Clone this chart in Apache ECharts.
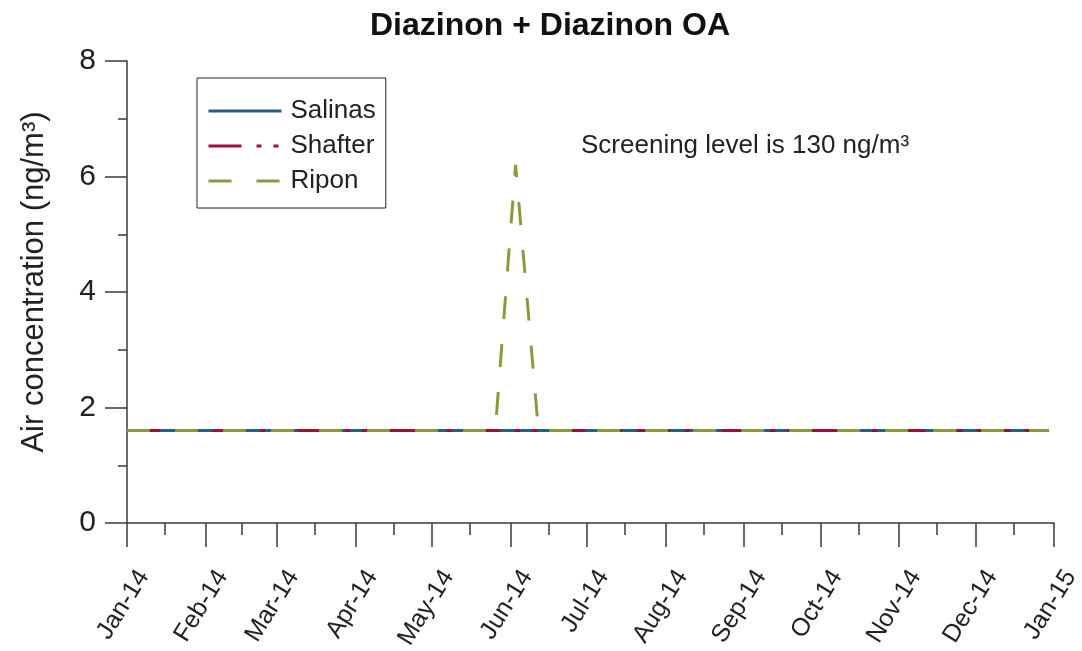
<!DOCTYPE html>
<html>
<head>
<meta charset="utf-8">
<script src="https://cdn.jsdelivr.net/npm/echarts@6/dist/echarts.min.js"></script>
<style>html,body{margin:0;padding:0;background:#fff}#c{width:1082px;height:651px}</style>
</head>
<body>
<div id="c"></div>
<script>
// ---- data ----
const tickDates = ['2014-01-01','2014-02-01','2014-03-01','2014-04-01','2014-05-01','2014-06-01','2014-07-01','2014-08-01','2014-09-01','2014-10-01','2014-11-01','2014-12-01','2015-01-01'];
const tickLabels = ['Jan-14','Feb-14','Mar-14','Apr-14','May-14','Jun-14','Jul-14','Aug-14','Sep-14','Oct-14','Nov-14','Dec-14','Jan-15'];
const minorTickDates = ['2014-01-16','2014-02-15','2014-03-16','2014-04-16','2014-05-16','2014-06-16','2014-07-16','2014-08-16','2014-09-16','2014-10-16','2014-11-16','2014-12-16'];
const salinasDates = ['2014-01-01','2014-12-30'];
const salinasValues = [1.6, 1.6];
const shafterDates = ['2014-01-01','2014-12-30'];
const shafterValues = [1.6, 1.6];
const riponDates = ['2014-01-01','2014-05-26','2014-06-03','2014-06-12','2014-12-30'];
const riponValues = [1.6, 1.6, 6.2, 1.6, 1.6];

const ts = d => new Date(d + 'T00:00:00Z').getTime();
const pairs = (ds, vs) => ds.map((d, i) => [ts(d), vs[i]]);
const labelMap = {};
tickDates.forEach((d, i) => { labelMap[ts(d)] = tickLabels[i]; });

const FONT = '"Liberation Sans", Arial, sans-serif';
const AX = '#3a3a3a';
const chart = echarts.init(document.getElementById('c'));
chart.setOption({
  animation: false,
  backgroundColor: '#fff',
  title: {
    text: 'Diazinon + Diazinon OA',
    left: 545, textAlign: 'center', top: 5,
    textStyle: { fontFamily: FONT, fontSize: 32, fontWeight: 'bold', color: '#111' }
  },
  legend: {
    orient: 'vertical', left: 197, top: 78,
    borderColor: '#222', borderWidth: 1,
    padding: [20, 10, 14, 10],
    itemWidth: 73, itemHeight: 26, itemGap: 9,
    itemStyle: { opacity: 0 },
    lineStyle: { width: 3 },
    textStyle: { fontFamily: FONT, fontSize: 26, color: '#222', padding: [0, 0, 0, 4] },
    data: ['Salinas', 'Shafter', 'Ripon']
  },
  graphic: [{
    type: 'text', x: 581, y: 146,
    style: { text: 'Screening level is 130 ng/m³', font: '26px ' + FONT, fill: '#222', verticalAlign: 'middle' }
  }],
  grid: { left: 127, right: 28, top: 61, bottom: 128, containLabel: false, outerBoundsMode: 'none' },
  xAxis: [{
    type: 'value', min: ts(tickDates[0]), max: ts(tickDates[tickDates.length - 1]),
    axisLine: { lineStyle: { color: AX, width: 1.5 } },
    splitLine: { show: false },
    axisTick: { customValues: tickDates.map(ts), length: 24, lineStyle: { color: AX, width: 1.5 } },
    axisLabel: {
      customValues: tickDates.map(ts),
      formatter: v => labelMap[v] || '',
      showMinLabel: true, showMaxLabel: true, hideOverlap: false,
      rotate: 58, margin: 39, verticalAlign: 'top', lineHeight: 39,
      fontFamily: FONT, fontSize: 25, color: '#222'
    }
  }, {
    type: 'value', min: ts(tickDates[0]), max: ts(tickDates[tickDates.length - 1]),
    position: 'bottom',
    axisLine: { show: false },
    splitLine: { show: false },
    axisTick: { customValues: minorTickDates.map(ts), length: 12, lineStyle: { color: AX, width: 1.5 } },
    axisLabel: { show: false }
  }],
  yAxis: {
    type: 'value', min: 0, max: 8, interval: 2,
    name: 'Air concentration (ng/m³)', nameLocation: 'middle', nameGap: 77,
    nameTextStyle: { fontFamily: FONT, fontSize: 31, color: '#222', padding: [0, 0, 0, 20] },
    axisLine: { show: true, lineStyle: { color: AX, width: 1.5 } },
    splitLine: { show: false },
    axisTick: { show: true, length: 22, lineStyle: { color: AX, width: 1.5 } },
    minorTick: { show: true, splitNumber: 2, length: 9, lineStyle: { color: AX, width: 1.5 } },
    axisLabel: { margin: 31, fontFamily: FONT, fontSize: 30, color: '#222' }
  },
  series: [{
    name: 'Salinas', type: 'line', symbol: 'none', xAxisIndex: 0,
    data: pairs(salinasDates, salinasValues),
    itemStyle: { color: '#2a5d86' },
    lineStyle: { color: '#2a5d86', width: 3 }
  }, {
    name: 'Shafter', type: 'line', symbol: 'none', xAxisIndex: 0,
    data: pairs(shafterDates, shafterValues),
    itemStyle: { color: '#9b1035' },
    lineStyle: { color: '#9b1035', width: 3, type: [33, 15, 5, 12, 5, 15] }
  }, {
    name: 'Ripon', type: 'line', symbol: 'none', xAxisIndex: 0,
    data: pairs(riponDates, riponValues),
    itemStyle: { color: '#8a9a3c' },
    lineStyle: { color: '#8a9a3c', width: 3, type: [23, 25] }
  }]
});
</script>
</body>
</html>
